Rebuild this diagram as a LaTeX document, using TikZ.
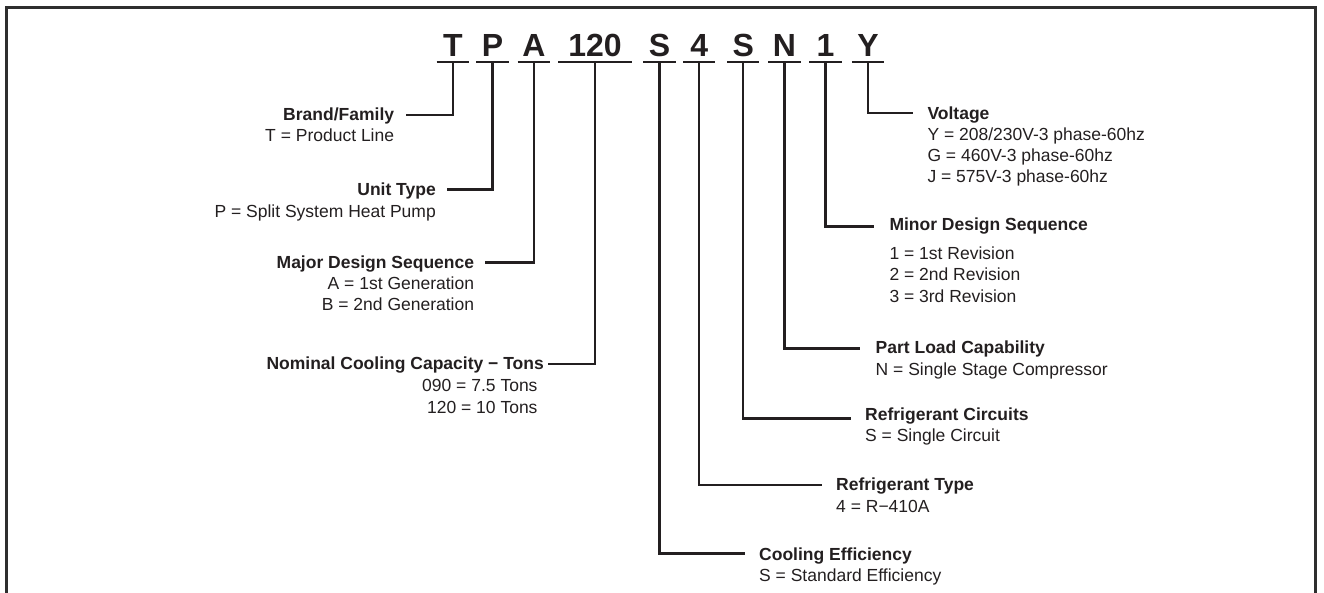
\documentclass[tikz,border=0pt]{standalone}
\usepackage{fontspec}
\setmainfont{Liberation Sans}
\usetikzlibrary{calc}
\definecolor{ink}{HTML}{231F20}
\definecolor{framec}{HTML}{2E2E2E}
\begin{document}
\begin{tikzpicture}[x=1pt,y=-1pt,
  code/.style={font=\bfseries\fontsize{32}{32}\selectfont, text=ink, anchor=base,
    inner sep=0pt, text height=23.5pt, text depth=5pt, minimum width=32pt},
  uline/.style={draw=ink, line width=2.5pt},
  conn/.style={draw=ink, line width=2.4pt},
  ttl/.style={font=\bfseries\fontsize{17.5}{21}\selectfont, text=ink, inner sep=0pt},
  dsc/.style={font=\fontsize{17.5}{21}\selectfont, text=ink, inner sep=0pt},
  lft/.style={anchor=base east},
  rgt/.style={anchor=base west},
  framel/.style={draw=framec, line width=2.6pt}
]
\useasboundingbox (0,0) rectangle (1324,593);
% frame (open at the bottom)
\draw[framel] (6.2,600) -- (6.2,7.5) -- (1315.7,7.5) -- (1315.7,600);

% code characters
\node[code] (cT)  at (452.8,56.7) {T};
\node[code] (cP)  at (492.6,56.7) {P};
\node[code] (cA)  at (533.8,56.7) {A};
\node[code, minimum width=73.4pt] (c120) at (595.1,56.7) {120};
\node[code] (cS1) at (659.5,56.7) {S};
\node[code] (c4)  at (699.2,56.7) {4};
\node[code] (cS2) at (743.2,56.7) {S};
\node[code] (cN)  at (784.5,56.7) {N};
\node[code] (c1)  at (825.5,56.7) {1};
\node[code] (cY)  at (868.0,56.7) {Y};
\foreach \c in {cT,cP,cA,c120,cS1,c4,cS2,cN,c1,cY}
  \draw[uline] (\c.south west) -- (\c.south east);

% left labels
\node[ttl,lft] (lT)  at (394.3,120.7) {Brand/Family};
\node[dsc,lft] (lTa) at (394.3,141.7) {T = Product Line};
\node[ttl,lft] (lP)  at (436.0,196.0) {Unit Type};
\node[dsc,lft] (lPa) at (436.0,218.0) {P = Split System Heat Pump};
\node[ttl,lft] (lA)  at (474.3,268.3) {Major Design Sequence};
\node[dsc,lft] (lAa) at (474.3,290.0) {A = 1st Generation};
\node[dsc,lft] (lAb) at (474.3,311.0) {B = 2nd Generation};
\node[ttl,lft] (l120)  at (544.0,369.0) {Nominal Cooling Capacity − Tons};
\node[dsc,lft] (l120a) at (537.7,391.7) {090 = 7.5 Tons};
\node[dsc,lft] (l120b) at (537.7,413.3) {120 = 10 Tons};

% right labels
\node[ttl,rgt] (lY)  at (927.3,119.3) {Voltage};
\node[dsc,rgt] (lYa) at (927.3,141.0) {Y = 208/230V-3 phase-60hz};
\node[dsc,rgt] (lYb) at (927.3,161.7) {G = 460V-3 phase-60hz};
\node[dsc,rgt] (lYc) at (927.3,182.7) {J = 575V-3 phase-60hz};
\node[ttl,rgt] (l1)  at (889.3,231.0) {Minor Design Sequence};
\node[dsc,rgt] (l1a) at (889.3,259.3) {1 = 1st Revision};
\node[dsc,rgt] (l1b) at (889.3,280.7) {2 = 2nd Revision};
\node[dsc,rgt] (l1c) at (889.3,302.3) {3 = 3rd Revision};
\node[ttl,rgt] (lN)  at (875.5,353.5) {Part Load Capability};
\node[dsc,rgt] (lNa) at (875.5,375.0) {N = Single Stage Compressor};
\node[ttl,rgt] (lS2)  at (865.0,420.0) {Refrigerant Circuits};
\node[dsc,rgt] (lS2a) at (865.0,441.5) {S = Single Circuit};
\node[ttl,rgt] (l4)  at (836.0,490.7) {Refrigerant Type};
\node[dsc,rgt] (l4a) at (836.0,512.7) {4 = R−410A};
\node[ttl,rgt] (lS1)  at (759.0,560.0) {Cooling Efficiency};
\node[dsc,rgt] (lS1a) at (759.0,581.7) {S = Standard Efficiency};

% connector ends
\coordinate (eT)   at ($(lT.base east)+(11.4,-5.7)$);
\coordinate (eP)   at ($(lP.base east)+(10.7,-6.5)$);
\coordinate (eA)   at ($(lA.base east)+(10.7,-5.6)$);
\coordinate (e120) at ($(l120.base east)+(4.0,-5.0)$);
\coordinate (eY)   at ($(lY.base west)+(-14.0,-6.0)$);
\coordinate (e1)   at ($(l1.base west)+(-15.0,-4.3)$);
\coordinate (eN)   at ($(lN.base west)+(-15.5,-5.2)$);
\coordinate (eS2)  at ($(lS2.base west)+(-14.5,-1.7)$);
\coordinate (e4)   at ($(l4.base west)+(-14.3,-5.7)$);
\coordinate (eS1)  at ($(lS1.base west)+(-14.0,-6.7)$);

% connectors
\draw[conn] (cT.south)   |- (eT);
\draw[conn] (cP.south)   |- (eP);
\draw[conn] (cA.south)   |- (eA);
\draw[conn] (c120.south) |- (e120);
\draw[conn] (cY.south)   |- (eY);
\draw[conn] (c1.south)   |- (e1);
\draw[conn] (cN.south)   |- (eN);
\draw[conn] (cS2.south)  |- (eS2);
\draw[conn] (c4.south)   |- (e4);
\draw[conn] (cS1.south)  |- (eS1);
\end{tikzpicture}
\end{document}
